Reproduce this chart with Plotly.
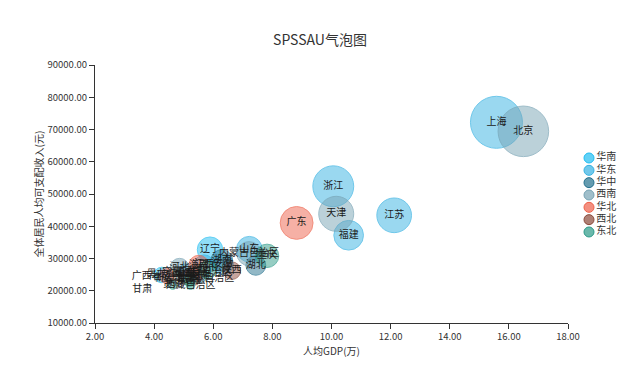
import plotly.graph_objects as go

# ---- data ----
regions = ["华南", "华东", "华中", "西南", "华北", "西北", "东北"]
region_colors = ["#1FBDF2", "#33B1E2", "#22708D", "#76A2B3", "#EE6048", "#8C4A3B", "#2B9A88"]

provinces = ["北京", "天津", "河北", "山西", "内蒙古自治区", "辽宁", "吉林", "黑龙江",
             "上海", "江苏", "浙江", "安徽", "福建", "江西", "山东", "河南", "湖北", "湖南",
             "广东", "广西壮族自治区", "海南", "重庆", "四川", "贵州", "云南", "西藏自治区",
             "陕西", "甘肃", "青海", "宁夏回族自治区", "新疆维吾尔自治区"]
gdp_per_capita = [16.49, 10.16, 4.86, 5.05, 7.21, 5.89, 5.09, 4.26,
                  15.58, 12.12, 10.06, 6.34, 10.58, 5.69, 7.22, 5.54, 7.44, 6.29,
                  8.82, 4.43, 5.51, 7.82, 5.81, 4.63, 5.20, 5.23,
                  6.63, 3.60, 5.08, 5.45, 5.36]
income = [69434, 43854, 27136, 25214, 31497, 32738, 25751, 24902,
          72232, 43390, 52397, 28103, 37202, 28017, 32886, 24810, 27881, 29380,
          41029, 24562, 27904, 30824, 26522, 21795, 23295, 21744,
          26226, 20335, 24037, 25735, 23845]
# series index (into regions) each bubble is drawn with
group = [3, 3, 3, 3, 3, 0, 0, 0,
         1, 1, 1, 1, 1, 1, 1, 2, 2, 2,
         4, 4, 4, 6, 6, 6, 6, 6,
         5, 5, 5, 5, 5]

x_ticks = [2, 4, 6, 8, 10, 12, 14, 16, 18]
y_ticks = [10000, 20000, 30000, 40000, 50000, 60000, 70000, 80000, 90000]

FONT = "Noto Sans CJK SC, Noto Sans, sans-serif"
ALPHA = 0.7


def rgba(hex_color, a):
    h = hex_color.lstrip("#")
    r, g, b = int(h[0:2], 16), int(h[2:4], 16), int(h[4:6], 16)
    return f"rgba({r},{g},{b},{a})"


min_inc = min(income)
size_val = [v - min_inc for v in income]
max_diam = 52
sizeref = 2.0 * max(size_val) / (max_diam ** 2)

fig = go.Figure()

for gi, (name, col) in enumerate(zip(regions, region_colors)):
    idx = [i for i, g in enumerate(group) if g == gi]
    fig.add_trace(go.Scatter(
        x=[gdp_per_capita[i] for i in idx],
        y=[income[i] for i in idx],
        mode="markers",
        name=name,
        marker=dict(size=[size_val[i] for i in idx], sizemode="area", sizeref=sizeref,
                    color=rgba(col, ALPHA), line=dict(color=col, width=1)),
        hoverinfo="skip",
        showlegend=False,
    ))

# labels on top
fig.add_trace(go.Scatter(
    x=gdp_per_capita, y=income, text=provinces, mode="text",
    textposition="middle center",
    textfont=dict(family=FONT, size=10, color="#1a1a1a"),
    showlegend=False, hoverinfo="skip",
))

# compact legend drawn on an auxiliary axis
fig.add_trace(go.Scatter(
    x=[0] * len(regions), y=list(range(len(regions))),
    xaxis="x2", yaxis="y2",
    mode="markers+text", text=regions, textposition="middle right",
    textfont=dict(family=FONT, size=10, color="#333"),
    marker=dict(size=10, color=[rgba(c, ALPHA) for c in region_colors],
                line=dict(color=region_colors, width=1)),
    showlegend=False, hoverinfo="skip", cliponaxis=False,
))

# page body has an 8px margin, so the figure is sized/positioned to compensate
W, H = 632, 357
ml, mr, mt, mb = 87, 10, 57, 42
pw = W - ml - mr
fig.update_layout(
    width=W, height=H,
    margin=dict(l=ml, r=mr, t=mt, b=mb, autoexpand=False),
    paper_bgcolor="white", plot_bgcolor="white",
    font=dict(family=FONT, size=10, color="#333"),
    title=dict(text="SPSSAU气泡图", x=(320 - 8) / W, xanchor="center", y=1 - 32 / H,
               yanchor="middle", font=dict(family=FONT, size=14, color="#333")),
    showlegend=False,
    xaxis=dict(domain=[0, 473 / pw], range=[2, 18], tickvals=x_ticks, tickformat=".2f",
               showline=True, linecolor="#333", linewidth=1, ticks="outside", ticklen=5,
               tickcolor="#333", showgrid=False, zeroline=False, automargin=False,
               tickfont=dict(size=9.5),
               title=dict(text="人均GDP(万)", standoff=2, font=dict(size=10, color="#333"))),
    yaxis=dict(range=[10000, 90000], tickvals=y_ticks, tickformat=".2f",
               showline=True, linecolor="#333", linewidth=1, ticks="outside", ticklen=5,
               tickcolor="#333", showgrid=False, zeroline=False, automargin=False,
               tickfont=dict(size=9.5),
               title=dict(text="全体居民人均可支配收入(元)", standoff=2,
                          font=dict(size=10, color="#333"))),
    xaxis2=dict(domain=[481 / pw, 1], range=[-13, 41], anchor="y2", visible=False,
                fixedrange=True),
    yaxis2=dict(domain=[0, 1], range=[13.38, -7.54], anchor="x2", visible=False,
                fixedrange=True),
)

fig.write_html("out.html")
